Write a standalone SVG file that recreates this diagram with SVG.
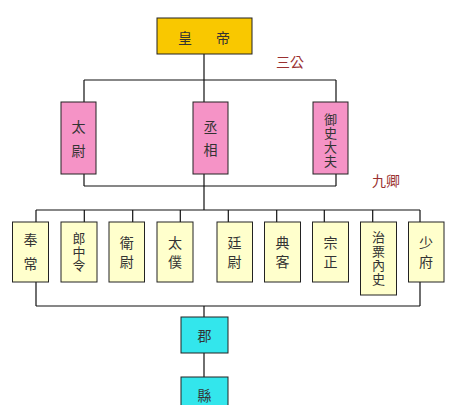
<svg xmlns="http://www.w3.org/2000/svg" width="452" height="405" viewBox="0 0 452 405">
<style>
.box{stroke:#222;stroke-width:1}
.emp{fill:#F9C800}
.pink{fill:#F593C6}
.yel{fill:#FFFFCC}
.cyan{fill:#33E6EC}
.t{font-family:"Noto Sans CJK TC","Noto Sans CJK SC",sans-serif;font-size:14px;fill:#333;text-anchor:middle;dominant-baseline:central}
.v{font-family:"Noto Sans CJK TC","Noto Sans CJK SC",sans-serif;font-size:14px;fill:#333;writing-mode:vertical-rl;text-anchor:start}
.s{font-size:13px}
.lab{font-family:"Noto Sans CJK TC","Noto Sans CJK SC",sans-serif;font-size:14px;fill:#9A3030;text-anchor:middle;dominant-baseline:central}
.ln{stroke:#111;stroke-width:1.2;fill:none}
</style>
<rect width="452" height="405" fill="#fff"/>
<g id="connectors">
<path class="ln" d="M204,54V80M84,80H336M84,80V102M204,80V102M336,80V102"/>
<path class="ln" d="M84,174V186M336,174V186M84,186H336M204,174V210"/>
<path class="ln" d="M36,210H420M36,210V222M84.3,210V222M132.7,210V222M180.3,210V222M228.3,210V222M276.7,210V222M324.3,210V222M372.7,210V222M420,210V222"/>
<path class="ln" d="M36,282V306M420,282V306M36,306H420M204,306V317M204,353V377"/>
</g>
<g id="emperor"><rect class="box emp" x="157" y="18" width="95" height="36"/><text class="t" x="185" y="37">皇</text><text class="t" x="223" y="37">帝</text></g>
<text class="lab" x="290" y="61">三公</text>
<g id="taiwei"><rect class="box pink" x="61" y="102" width="35" height="72"/><text class="v" x="78.5" y="120" letter-spacing="10">太尉</text></g>
<g id="chengxiang"><rect class="box pink" x="193" y="102" width="35" height="72"/><text class="v" x="210.5" y="120" letter-spacing="9">丞相</text></g>
<g id="yushidafu"><rect class="box pink" x="313" y="102" width="35" height="72"/><text class="v s" x="330.5" y="112.5" letter-spacing="1">御史大夫</text></g>
<text class="lab" x="386" y="180">九卿</text>
<g id="fengchang"><rect class="box yel" x="12.5" y="222" width="36" height="60"/><text class="v" x="30.5" y="233" letter-spacing="10">奉常</text></g>
<g id="langzhongling"><rect class="box yel" x="61" y="222" width="36" height="60"/><text class="v s" x="79" y="232" letter-spacing="0.5">郎中令</text></g>
<g id="weiwei"><rect class="box yel" x="109" y="222" width="35.5" height="60"/><text class="v" x="126.7" y="236" letter-spacing="5">衛尉</text></g>
<g id="taipu"><rect class="box yel" x="157" y="222" width="36" height="60"/><text class="v" x="175" y="236" letter-spacing="5">太僕</text></g>
<g id="tingwei"><rect class="box yel" x="217" y="222" width="35.5" height="60"/><text class="v" x="234.5" y="236" letter-spacing="5">廷尉</text></g>
<g id="dianke"><rect class="box yel" x="264.5" y="222" width="36" height="60"/><text class="v" x="282.5" y="236" letter-spacing="5">典客</text></g>
<g id="zongzheng"><rect class="box yel" x="312.5" y="222" width="36" height="60"/><text class="v" x="330.5" y="236" letter-spacing="5">宗正</text></g>
<g id="zhisuneishi"><rect class="box yel" x="360.5" y="222" width="36" height="73"/><text class="v s" x="378.5" y="231" letter-spacing="0.7">治粟內史</text></g>
<g id="shaofu"><rect class="box yel" x="408.5" y="222" width="35.5" height="60"/><text class="v" x="426" y="236" letter-spacing="5">少府</text></g>
<g id="jun"><rect class="box cyan" x="181" y="317" width="47" height="36"/><text class="t" x="204.5" y="335">郡</text></g>
<g id="xian"><rect class="box cyan" x="181" y="377" width="47" height="34"/><text class="t" x="204.5" y="395">縣</text></g>
</svg>
